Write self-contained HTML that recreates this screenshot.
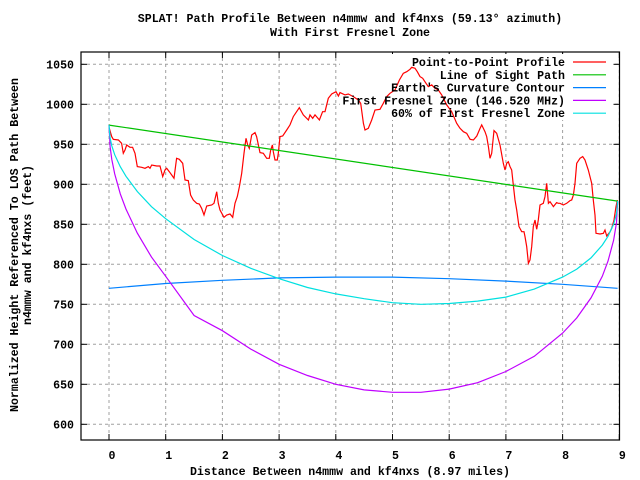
<!DOCTYPE html>
<html><head><meta charset="utf-8"><style>
html,body{margin:0;padding:0;background:#fff}
svg{display:block}
text{font-family:"Liberation Mono",monospace;font-size:11.6px;font-weight:bold;fill:#000}
</style></head><body>
<svg id="chart" width="640" height="480" xmlns="http://www.w3.org/2000/svg">
<rect x="0" y="0" width="640" height="480" fill="#fff"/>
<text x="350" y="22" text-anchor="middle">SPLAT! Path Profile Between n4mmw and kf4nxs (59.13° azimuth)</text>
<text x="350" y="36" text-anchor="middle">With First Fresnel Zone</text>
<text x="350" y="475" text-anchor="middle">Distance Between n4mmw and kf4nxs (8.97 miles)</text>
<text transform="translate(18,245) rotate(-90)" text-anchor="middle">Normalized Height Referenced To LOS Path Between</text>
<text transform="translate(31,245) rotate(-90)" text-anchor="middle">n4mmw and kf4nxs (feet)</text>
<g id="grid"></g><g id="series"></g><g id="legend"></g>
</svg>
<script>
const xTicks=[0,1,2,3,4,5,6,7,8,9];
const yTicks=[600,650,700,750,800,850,900,950,1000,1050];
const profileX=[0.006,0.047,0.076,0.165,0.223,0.253,0.282,0.312,0.370,0.417,0.459,0.500,0.576,0.635,0.694,0.723,0.753,0.841,0.899,0.947,0.988,1.017,1.064,1.105,1.146,1.193,1.240,1.299,1.340,1.399,1.440,1.487,1.546,1.593,1.634,1.675,1.723,1.811,1.852,1.899,1.928,1.958,2.028,2.075,2.134,2.181,2.222,2.263,2.299,2.340,2.381,2.416,2.446,2.475,2.516,2.575,2.604,2.663,2.722,2.781,2.828,2.851,2.881,2.898,2.928,2.969,2.986,3.016,3.063,3.134,3.192,3.251,3.357,3.427,3.516,3.545,3.592,3.633,3.710,3.768,3.810,3.868,3.927,4.004,4.045,4.074,4.162,4.221,4.309,4.398,4.439,4.486,4.515,4.574,4.633,4.691,4.780,4.838,4.897,4.956,5.044,5.121,5.191,5.250,5.309,5.338,5.397,5.438,5.485,5.532,5.591,5.632,5.691,5.750,5.808,5.867,5.956,6.044,6.132,6.191,6.250,6.309,6.368,6.427,6.486,6.545,6.573,6.632,6.662,6.691,6.720,6.750,6.790,6.837,6.896,6.955,6.984,7.014,7.043,7.073,7.102,7.131,7.160,7.190,7.231,7.278,7.319,7.337,7.366,7.396,7.425,7.455,7.484,7.513,7.543,7.572,7.602,7.660,7.690,7.719,7.749,7.778,7.837,7.895,7.925,7.954,8.013,8.072,8.131,8.160,8.190,8.219,8.248,8.307,8.354,8.395,8.454,8.513,8.542,8.572,8.589,8.660,8.719,8.748,8.778,8.837,8.866,8.907,8.942,8.966];
const profileY=[970,959.6,956.2,955.4,951.2,938.7,942.9,949.1,946.2,946.2,938.7,922.1,921.2,920,922.1,920,924.1,922.9,922.9,909.6,917.9,920,915.8,911.6,907.5,932.5,931.2,926.2,905.4,904.6,886.6,880.4,876.2,875.4,870,861.6,872.9,874.1,876.2,890.8,876.2,867.9,858.7,861.6,862.9,858.7,876.2,884.6,897.1,913.7,938.7,957.5,949.1,945,961.6,964.6,959.6,939.6,938.7,932.5,932.5,942.9,949.1,940.8,930.4,930.4,938.7,959.6,960.4,967.9,974.2,984.6,995.8,986.7,980.4,986.7,982.5,986.7,980.4,990.8,990.8,1007.5,1012.9,1015.8,1010.4,1014.6,1011.7,1012.9,1009.6,1005.4,1001.2,976.2,967.9,970,980.4,992.9,993.8,1001.2,1009.6,1013.7,1017.9,1030.4,1038.7,1040.8,1043.7,1046.2,1045,1040.8,1034.6,1032.5,1026.2,1022.1,1024.2,1020,1017.9,1011.7,999.2,990.8,976.2,970,965.8,963.7,956.2,955.4,960.4,970,974.2,965.8,959.6,947.1,932.5,938.7,967.1,963.7,949.1,926.2,917.9,926.2,928.3,922.1,917.9,899.2,880.4,867.9,847.1,840.8,840.8,834.6,822.1,801.2,805.4,822.1,847.1,855.4,843.7,855.4,874.1,876.2,884.6,901.2,876.2,878.3,872.1,877.1,876.2,876.2,874.1,876.2,879.6,880.4,886.6,901.2,926.2,932.5,934.6,930.4,917.9,901.2,880.4,861.6,838.7,837.9,838.7,842.9,835.4,840.8,845,855.4,872.1,880.4];
const losX=[0,8.97];
const losY=[974,879];
const earthX=[0,1,2,3,4,5,6,7,8,8.97];
const earthY=[770,776,780,783,784,784,782,779,775,770];
const fresX=[0,0.02,0.05,0.1,0.2,0.3,0.5,0.75,1,1.5,2,2.5,3,3.5,4,4.5,5,5.5,6,6.5,7,7.5,8,8.25,8.5,8.7,8.8,8.9,8.95,8.97];
const fresY=[974,947,931,913,888,869,839,809,785,736,717,694,675,661,650,643,640,640,644,652,666,685,714,733,758,785,804,830,852,879];
const fres60Y=[974,958,948,937,922,910,891,872,857,831,811,795,782,771,763,757,752,750,751,754,759,769,784,794,808,824,835,850,863,879];
const legendLabels=["Point-to-Point Profile","Line of Sight Path","Earth's Curvature Contour","First Fresnel Zone (146.520 MHz)","60% of First Fresnel Zone"];

const L=81,R=619.5,T=52,B=440;
const sx=v=>109+v*56.7;
const sy=v=>424.3-(v-600)*0.8;
const NS="http://www.w3.org/2000/svg";
function mk(tag,attrs,parent){const e=document.createElementNS(NS,tag);for(const k in attrs)e.setAttribute(k,attrs[k]);parent.appendChild(e);return e;}
const grid=document.getElementById('grid'),ser=document.getElementById('series'),leg=document.getElementById('legend');
xTicks.forEach(t=>{const x=sx(t);
 const g=mk('line',{x1:x,x2:x,y1:T,y2:B,stroke:'#a0a0a0','stroke-dasharray':'3,3','stroke-width':1},grid);
 
 
 mk('line',{x1:x,x2:x,y1:B,y2:B-6,stroke:'#000'},grid);
 mk('line',{x1:x,x2:x,y1:T,y2:T+6,stroke:'#000'},grid);
 const tx=mk('text',{x:x+3,y:B+19,'text-anchor':'middle'},grid);tx.textContent=t;
 
 
});
yTicks.forEach(t=>{const y=sy(t);
 const g=mk('line',{x1:L,x2:R,y1:y,y2:y,stroke:'#a0a0a0','stroke-dasharray':'3,3','stroke-width':1},grid);
 
 
 mk('line',{x1:L,x2:L+6,y1:y,y2:y,stroke:'#000'},grid);
 mk('line',{x1:R,x2:R-6,y1:y,y2:y,stroke:'#000'},grid);
 const tx=mk('text',{x:74,y:y+4,'text-anchor':'end'},grid);tx.textContent=t;
 
 
});
const kb=mk('rect',{x:340,y:54,width:273,height:66,fill:'#fff'},grid);


const colors=['#ff0000','#00c000','#0080ff','#c000ff','#00e0e0'];
const series=[[profileX,profileY],[losX,losY],[earthX,earthY],[fresX,fresY],[fresX,fres60Y]];
const names=['profile-line','los-line','earth-curvature-line','fresnel-zone-line','fresnel-60-line'];
series.forEach((s,i)=>{
 const pts=s[0].map((x,j)=>sx(x).toFixed(1)+','+sy(s[1][j]).toFixed(1)).join(' ');
 const p=mk('polyline',{points:pts,fill:'none',stroke:colors[i],'stroke-width':1.2},ser);
 
 
});
const border=mk('rect',{x:L,y:T,width:R-L,height:B-T,fill:'none',stroke:'#000','stroke-width':1.2},ser);


legendLabels.forEach((lab,i)=>{const y=62+i*12.8;
 const t=mk('text',{x:565,y:y+4,'text-anchor':'end'},leg);t.textContent=lab;
 
 
 const l=mk('line',{x1:573,x2:606,y1:y,y2:y,stroke:colors[i],'stroke-width':1.2},leg);
 
 
});
</script>
</body></html>
